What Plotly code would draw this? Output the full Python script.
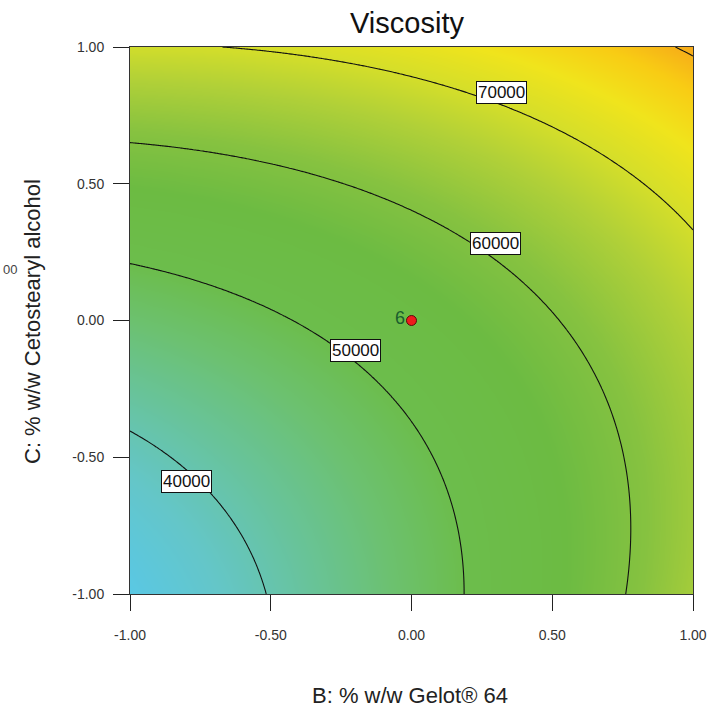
import numpy as np
import plotly.graph_objects as go

# Quadratic response-surface model (coded factors B, C)
coef_names = ["b0", "B", "C", "BC", "B2", "C2"]
coef_values = [53900, 10300, 12750, -4750, 2500, 5950]

contour_levels = [40000, 50000, 60000, 70000, 80000]
label_texts = ["40000", "50000", "60000", "70000"]
label_B = [-0.80, -0.20, 0.30, 0.32]
label_C = [-0.59, -0.11, 0.28, 0.835]

design_B = [0.0]
design_C = [0.0]
design_label = ["6"]

tick_vals = [-1.0, -0.5, 0.0, 0.5, 1.0]
tick_text = ["-1.00", "-0.50", "0.00", "0.50", "1.00"]

c = dict(zip(coef_names, coef_values))
g = np.linspace(-1, 1, 241)
BB, CC = np.meshgrid(g, g)
Z = (c["b0"] + c["B"] * BB + c["C"] * CC + c["BC"] * BB * CC
     + c["B2"] * BB ** 2 + c["C2"] * CC ** 2)

zmin, zmax = 34000, 81500
stops = [
    (34000, "#58c8e8"), (38000, "#64c6c8"), (42000, "#68c39a"),
    (46000, "#6cc170"), (50000, "#6cbd4c"), (56000, "#6cbb42"),
    (61000, "#86c240"), (66000, "#b0d038"), (70000, "#d4de2a"),
    (74000, "#f0e41c"), (77500, "#f8cc14"), (81500, "#f6a01a"),
]
colorscale = [[(v - zmin) / (zmax - zmin), col] for v, col in stops]

fig = go.Figure()
fig.add_trace(go.Heatmap(x=g, y=g, z=Z, colorscale=colorscale, zmin=zmin, zmax=zmax,
                         showscale=False, zsmooth="best", hoverinfo="skip"))
fig.add_trace(go.Contour(x=g, y=g, z=Z, showscale=False,
                         contours=dict(start=contour_levels[0], end=contour_levels[-1],
                                       size=10000, showlabels=False, coloring="lines"),
                         line=dict(color="#111111", width=1.1),
                         colorscale=[[0, "#111111"], [1, "#111111"]], hoverinfo="skip"))
fig.add_trace(go.Scatter(x=design_B, y=design_C, mode="markers",
                         marker=dict(color="#ee1c1c", size=10,
                                     line=dict(color="#5a0a0a", width=1)),
                         hoverinfo="skip"))

for t, b, cc in zip(label_texts, label_B, label_C):
    fig.add_annotation(x=b, y=cc, text=t, showarrow=False,
                       font=dict(family="Liberation Sans, Arial", size=17, color="#111"),
                       bgcolor="white", bordercolor="#111", borderwidth=1, borderpad=1)

for b, cc, t in zip(design_B, design_C, design_label):
    fig.add_annotation(x=b, y=cc, text=t, showarrow=False, xanchor="right", xshift=-5,
                       yshift=3,
                       font=dict(family="Liberation Sans, Arial", size=18, color="#1a5e2e"))

fig.add_annotation(xref="paper", yref="paper", x=-(130 - 1) / 563, y=0.594, text="00",
                   showarrow=False, xanchor="left",
                   font=dict(family="Liberation Sans, Arial", size=13, color="#444"))

axis_common = dict(range=[-1, 1], tickvals=tick_vals, ticktext=tick_text,
                   ticks="outside", ticklen=16, tickcolor="#222", tickwidth=1.2,
                   showline=True, linecolor="#333", linewidth=1, mirror=True,
                   showgrid=False, zeroline=False, automargin=False,
                   tickfont=dict(family="Liberation Sans, Arial", size=14, color="#333"))

fig.update_layout(
    width=713, height=710, autosize=False,
    margin=dict(l=130, r=20, t=47, b=116, autoexpand=False),
    paper_bgcolor="white", plot_bgcolor="white",
    showlegend=False,
    title=dict(text="Viscosity", xref="container", yref="container",
               x=407 / 713, y=1 - 23 / 710, xanchor="center", yanchor="middle",
               font=dict(family="Liberation Sans, Arial", size=29, color="#111")),
    xaxis=dict(**axis_common, ticklabelstandoff=12),
    yaxis=dict(**axis_common, ticklabelstandoff=6),
)

fig.add_annotation(xref="paper", yref="paper", x=(410 - 130) / 563, y=-(695 - 594) / 547,
                   text="B: % w/w Gelot® 64", showarrow=False,
                   xanchor="center", yanchor="middle",
                   font=dict(family="Liberation Sans, Arial", size=22, color="#222"))
fig.add_annotation(xref="paper", yref="paper", x=-(130 - 32) / 563, y=(594 - 322) / 547,
                   text="C: % w/w Cetostearyl alcohol", showarrow=False, textangle=-90,
                   xanchor="center", yanchor="middle",
                   font=dict(family="Liberation Sans, Arial", size=22, color="#222"))

fig.write_html("out.html")
